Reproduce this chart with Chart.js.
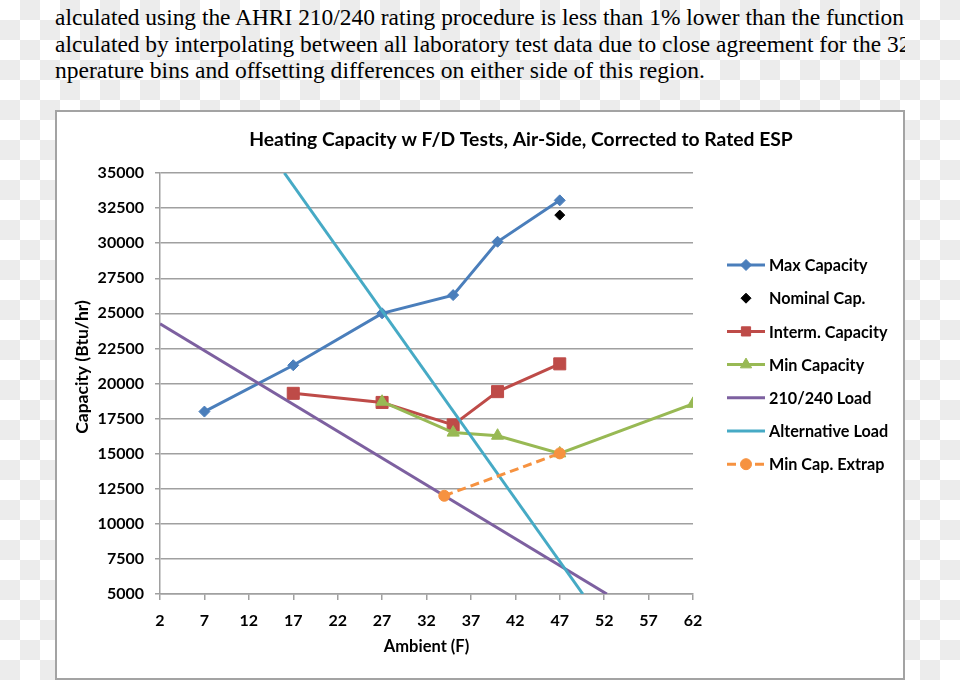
<!DOCTYPE html>
<html>
<head>
<meta charset="utf-8">
<script src="https://cdn.jsdelivr.net/npm/chart.js@4.4.1/dist/chart.umd.min.js"></script>
<style>
  html, body { margin:0; padding:0; }
  body {
    width:960px; height:680px; overflow:hidden; position:relative;
    background: repeating-conic-gradient(#ececec 0 25%, #ffffff 0 50%) 0 0 / 40px 40px;
  }
  #para {
    position:absolute; left:55px; top:4px; width:850px; height:90px; overflow:hidden;
  }
  #paraInner {
    font-family:"Liberation Serif", "DejaVu Serif", serif; font-size:24px; line-height:26.5px;
    color:#000; white-space:nowrap;
  }
  #paraInner span { display:inline-block; transform-origin:0 0; }
  #box {
    position:absolute; left:55px; top:110px; width:846px; height:566px;
    border:2px solid #a3a3a3; background:#fff;
  }
  #c { display:block; }
</style>
</head>
<body>
<div id="para"><div id="paraInner">
  <div><span id="l1">alculated using the AHRI 210/240 rating procedure is less than 1% lower than the function</span></div>
  <div><span id="l2">alculated by interpolating between all laboratory test data due to close agreement for the 32</span></div>
  <div><span id="l3">nperature bins and offsetting differences on either side of this region.</span></div>
</div></div>
<div id="box"><canvas id="c" width="846" height="566"></canvas></div>
<script>
// ---- data ----
const xTicks = [2, 7, 12, 17, 22, 27, 32, 37, 42, 47, 52, 57, 62];
const yTicks = [5000, 7500, 10000, 12500, 15000, 17500, 20000, 22500, 25000, 27500, 30000, 32500, 35000];

const maxCapX = [7, 17, 27, 35, 40, 47];
const maxCapY = [18000, 21300, 25000, 26300, 30100, 33050];

const nomCapX = [47];
const nomCapY = [32000];

const intCapX = [17, 27, 35, 40, 47];
const intCapY = [19300, 18650, 17050, 19420, 21400];

const minCapX = [27, 35, 40, 47, 62];
const minCapY = [18700, 16500, 16280, 15020, 18550];

const loadX = [2, 52.3];
const loadY = [24250, 5000];

const altLoadX = [16, 49.6];
const altLoadY = [35000, 5000];

const extrapX = [34, 47];
const extrapY = [12000, 15020];

const seriesNames = ["Max Capacity", "Nominal Cap.", "Interm. Capacity", "Min Capacity", "210/240 Load", "Alternative Load", "Min Cap. Extrap"];
const titleText = "Heating Capacity w F/D Tests, Air-Side, Corrected to Rated ESP";
const xTitle = "Ambient (F)";
const yTitle = "Capacity (Btu/hr)";

// ---- paragraph horizontal fit (per line) ----
(function(){
  const l1 = document.getElementById('l1'), l2 = document.getElementById('l2'), l3 = document.getElementById('l3');
  const s1 = 849 / l1.getBoundingClientRect().width;
  const s3 = 650 / l3.getBoundingClientRect().width;
  l1.style.transform = 'scaleX(' + s1 + ')';
  l2.style.transform = 'scaleX(' + s1 + ')';
  l3.style.transform = 'scaleX(' + s3 + ')';
})();

const pts = (xs, ys) => xs.map((x, i) => ({x: x, y: ys[i]}));
const FONT = "Lato, 'Open Sans', sans-serif";

const styles = [
  {color:'#4A7EBB', style:'rectRot', r:5.5, line:true, dash:[]},
  {color:'#000000', style:'rectRot', r:5, line:false, dash:[]},
  {color:'#BE4B48', style:'rect', r:8.5, line:true, dash:[]},
  {color:'#98B954', style:'triangle', r:7, line:true, dash:[]},
  {color:'#7D60A0', style:false, r:0, line:true, dash:[]},
  {color:'#46AAC5', style:false, r:0, line:true, dash:[]},
  {color:'#F69240', style:'circle', r:5.5, line:true, dash:[9,5]},
];
const seriesData = [
  pts(maxCapX, maxCapY), pts(nomCapX, nomCapY), pts(intCapX, intCapY), pts(minCapX, minCapY),
  pts(loadX, loadY), pts(altLoadX, altLoadY), pts(extrapX, extrapY)
];

const datasets = seriesData.map((d, i) => ({
  label: seriesNames[i],
  data: d,
  order: 10 - i,
  showLine: styles[i].line,
  borderColor: styles[i].color,
  backgroundColor: styles[i].color,
  borderWidth: 3,
  borderDash: styles[i].dash,
  pointStyle: styles[i].style,
  pointRadius: styles[i].r,
  pointHoverRadius: styles[i].r,
  pointBorderWidth: 1,
  pointBorderColor: styles[i].color,
  pointBackgroundColor: styles[i].color,
  tension: 0,
  fill: false
}));

function drawMarker(ctx, st, x, y) {
  if (!st.style) return;
  if (Chart.helpers && Chart.helpers.drawPoint) {
    ctx.save();
    ctx.fillStyle = st.color; ctx.strokeStyle = st.color; ctx.lineWidth = 1; ctx.setLineDash([]);
    Chart.helpers.drawPoint(ctx, {pointStyle: st.style, radius: st.r, rotation: 0, borderWidth: 1}, x, y);
    ctx.restore();
  }
}

const customDraw = {
  id: 'customDraw',
  afterDraw(chart) {
    const ctx = chart.ctx;
    ctx.save();
    ctx.fillStyle = '#000';
    // title
    ctx.font = "bold 19.3px " + FONT;
    ctx.textAlign = 'center'; ctx.textBaseline = 'middle';
    ctx.fillText(titleText, 464, 28);
    // x title
    ctx.font = "bold 16.5px " + FONT;
    ctx.fillText(xTitle, (chart.chartArea.left + chart.chartArea.right) / 2, 535);
    // y title
    ctx.font = "bold 17.5px " + FONT;
    ctx.save();
    ctx.translate(25, 255);
    ctx.rotate(-Math.PI / 2);
    ctx.fillText(yTitle, 0, 0);
    ctx.restore();
    // legend
    const lx0 = 670, lx1 = 708, tx = 712, y0 = 153, dy = 33.2;
    ctx.font = "bold 16.2px " + FONT;
    ctx.textAlign = 'left';
    seriesNames.forEach((name, i) => {
      const st = styles[i];
      const y = y0 + i * dy;
      if (st.line) {
        ctx.save();
        ctx.strokeStyle = st.color; ctx.lineWidth = 3; ctx.setLineDash(st.dash);
        ctx.beginPath(); ctx.moveTo(lx0, y); ctx.lineTo(lx1, y); ctx.stroke();
        ctx.restore();
      }
      drawMarker(ctx, {color: st.color, style: st.style, r: Math.min(st.r, 6.5)}, (lx0 + lx1) / 2, y);
      ctx.fillStyle = '#000';
      ctx.fillText(name, tx, y + 1);
    });
    ctx.restore();
  }
};

new Chart(document.getElementById('c'), {
  type: 'line',
  data: { datasets: datasets },
  options: {
    responsive: false,
    animation: false,
    events: [],
    layout: { padding: { top: 61, right: 210, bottom: 0, left: 0 } },
    plugins: { legend: { display: false }, title: { display: false }, tooltip: { enabled: false } },
    scales: {
      x: {
        type: 'linear', min: 2, max: 62,
        afterBuildTicks: (s) => { s.ticks = xTicks.map(v => ({value: v})); },
        afterFit: (s) => { s.height = 84; },
        ticks: { color: '#000', font: { family: FONT, size: 16, weight: 'bold' }, padding: 11, maxRotation: 0, autoSkip: false,
                 callback: (v) => String(v) },
        grid: { drawOnChartArea: false, drawTicks: true, tickLength: 6, color: '#a0a0a0', lineWidth: 1.5 },
        border: { display: true, color: '#a0a0a0', width: 1.5 }
      },
      y: {
        type: 'linear', min: 5000, max: 35000,
        afterBuildTicks: (s) => { s.ticks = yTicks.map(v => ({value: v})); },
        afterFit: (s) => { s.width = 103; },
        ticks: { color: '#000', font: { family: FONT, size: 16, weight: 'bold' }, padding: 11, autoSkip: false,
                 callback: (v) => String(v) },
        grid: { drawOnChartArea: true, drawTicks: true, tickLength: 5, color: '#a0a0a0', lineWidth: 1.5 },
        border: { display: true, color: '#a0a0a0', width: 1.5 }
      }
    }
  },
  plugins: [customDraw]
});
</script>
</body>
</html>
